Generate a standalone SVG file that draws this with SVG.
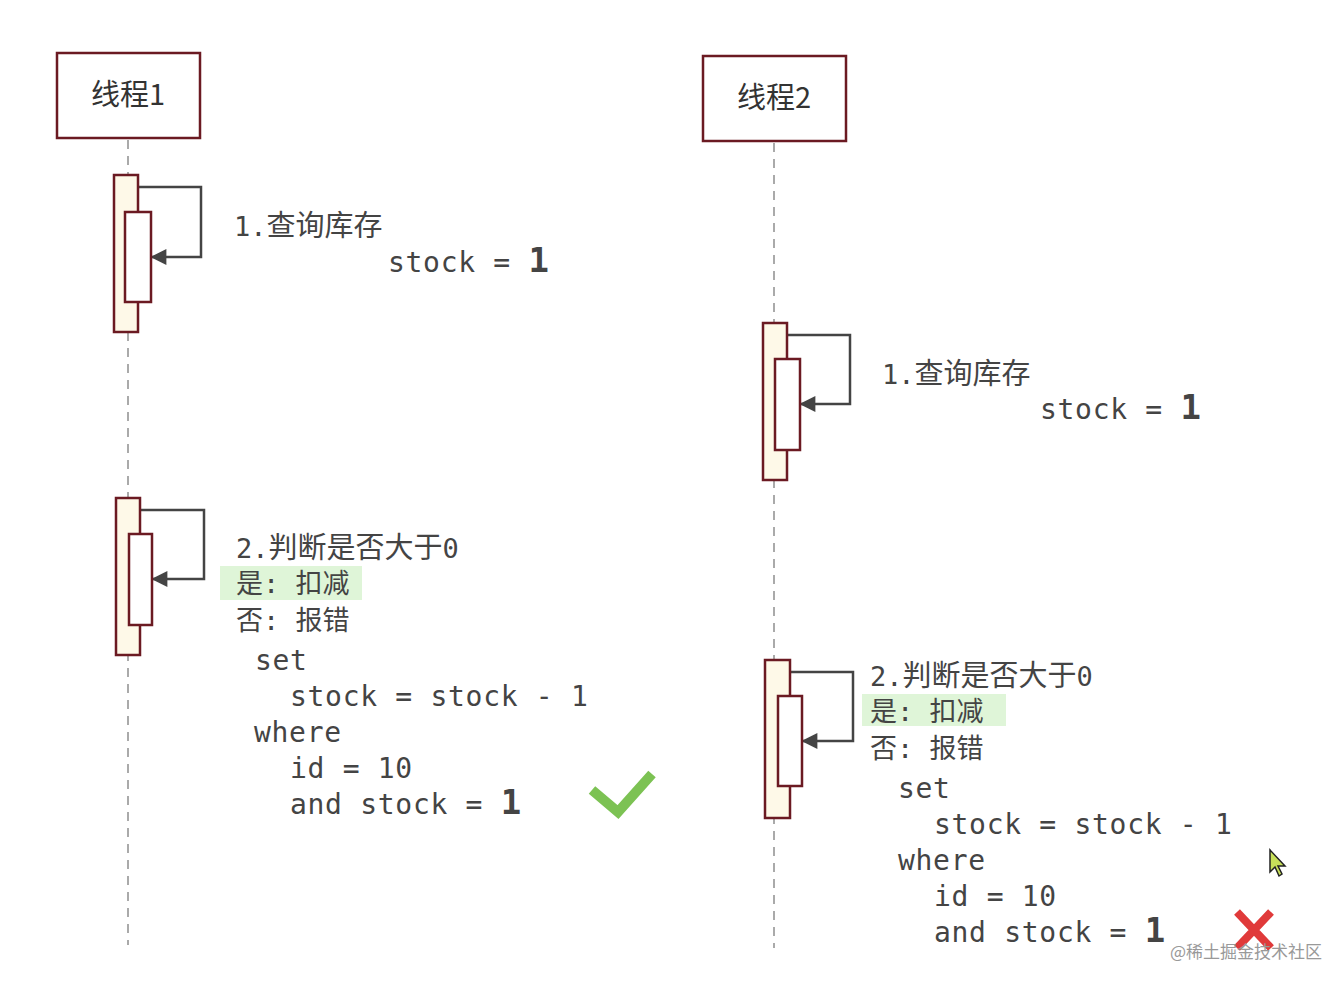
<svg xmlns="http://www.w3.org/2000/svg" width="1344" height="986" viewBox="0 0 1344 986">
<defs>
<marker id="ah" viewBox="0 0 10 10" refX="9" refY="5" markerWidth="18" markerHeight="16" markerUnits="userSpaceOnUse" orient="auto"><path d="M0,0L10,5L0,10z" fill="#444"/></marker>
<style>
.hd{fill:#fff;stroke:#6b1a22;stroke-width:2.5}
.ll{stroke:#aaa;stroke-width:2;stroke-dasharray:9,7;fill:none}
.ao{fill:#fef9e8;stroke:#6b1a22;stroke-width:2.5}
.ai{fill:#fff;stroke:#6b1a22;stroke-width:2.5}
.lp{fill:none;stroke:#444;stroke-width:2.5;marker-end:url(#ah)}
.t{font-family:"DejaVu Sans Mono","Noto Sans CJK SC",monospace;font-size:27px;fill:#444}
.c{font-family:"DejaVu Sans Mono",monospace;font-size:28px;fill:#444;letter-spacing:0.7px}
.b{font-weight:bold;font-size:34px}
.h{font-family:"Noto Sans CJK SC",sans-serif;font-size:29px;fill:#333}
.hl{fill:#dff5d8}
</style>
</defs>
<g id="connectors">
<line class="ll" x1="128" y1="140" x2="128" y2="945"/>
<line class="ll" x1="774" y1="143" x2="774" y2="948"/>
<path class="lp" d="M138,187H201V257H152"/>
<path class="lp" d="M140,510H204V579H153"/>
<path class="lp" d="M787,335H850V404H801"/>
<path class="lp" d="M790,672H853V741H803"/>
</g>
<g id="thread1"><rect class="hd" x="57" y="53" width="143" height="85"/><text class="h" x="128" y="105" text-anchor="middle">线程1</text></g>
<g id="thread2"><rect class="hd" x="703" y="56" width="143" height="85"/><text class="h" x="774" y="108" text-anchor="middle">线程2</text></g>
<g id="t1-act1"><rect class="ao" x="114" y="175" width="24" height="157"/><rect class="ai" x="125" y="212" width="26" height="90"/></g>
<g id="t1-act2"><rect class="ao" x="116" y="498" width="24" height="157"/><rect class="ai" x="129" y="534" width="23" height="91"/></g>
<g id="t2-act1"><rect class="ao" x="763" y="323" width="24" height="157"/><rect class="ai" x="775" y="359" width="25" height="91"/></g>
<g id="t2-act2"><rect class="ao" x="765" y="660" width="25" height="158"/><rect class="ai" x="778" y="696" width="24" height="90"/></g>
<g id="t1-text">
<text class="t" x="234" y="236">1.<tspan font-size="29">查询库存</tspan></text>
<text class="c" x="388" y="272">stock = <tspan class="b">1</tspan></text>
<text class="t" x="236" y="558">2.<tspan font-size="29">判断是否大于</tspan>0</text>
<rect class="hl" x="220" y="566" width="142" height="34"/>
<text class="t" x="236" y="593" font-size="29">是: 扣减</text>
<text class="t" x="236" y="630" font-size="29">否: 报错</text>
<text class="c" x="255" y="670">set</text>
<text class="c" x="290" y="706">stock = stock - 1</text>
<text class="c" x="254" y="742">where</text>
<text class="c" x="290" y="778">id = 10</text>
<text class="c" x="290" y="814">and stock = <tspan class="b">1</tspan></text>
<path d="M592,790L618,812L652,774" fill="none" stroke="#7cc253" stroke-width="10"/>
</g>
<g id="t2-text">
<text class="t" x="882" y="384">1.<tspan font-size="29">查询库存</tspan></text>
<text class="c" x="1040" y="419">stock = <tspan class="b">1</tspan></text>
<text class="t" x="870" y="686">2.<tspan font-size="29">判断是否大于</tspan>0</text>
<rect class="hl" x="862" y="694" width="144" height="32"/>
<text class="t" x="870" y="721" font-size="29">是: 扣减</text>
<text class="t" x="870" y="758" font-size="29">否: 报错</text>
<text class="c" x="898" y="798">set</text>
<text class="c" x="934" y="834">stock = stock - 1</text>
<text class="c" x="898" y="870">where</text>
<text class="c" x="934" y="906">id = 10</text>
<text class="c" x="934" y="942">and stock = <tspan class="b">1</tspan></text>
<path d="M1237,912L1271,948M1271,912L1237,948" stroke="#e03a3a" stroke-width="8"/>
<path d="M1270,850L1270,872L1275,867L1279,876L1282,874L1278,866L1285,866Z" fill="#c8e05a" stroke="#222" stroke-width="1.5"/>
<text x="1170" y="958" font-family="Noto Sans CJK SC,sans-serif" font-size="17" fill="#999">@稀土掘金技术社区</text>
</g>
</svg>
